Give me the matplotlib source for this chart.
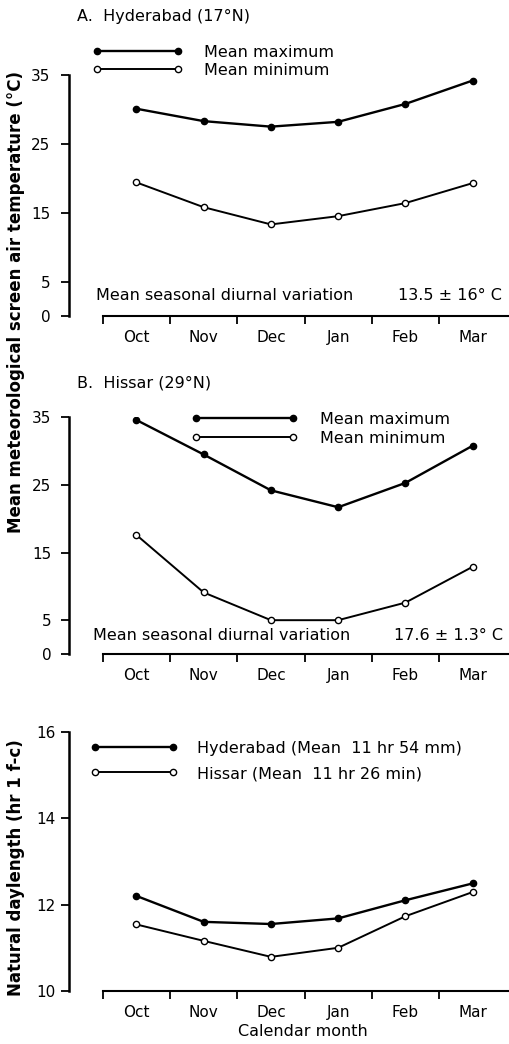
import numpy as np
import matplotlib
matplotlib.use("Agg")
import matplotlib.pyplot as plt

months = ["Oct", "Nov", "Dec", "Jan", "Feb", "Mar"]

# A. Hyderabad, mean screen air temperature (deg C)
hyd_max = [30.1, 28.3, 27.5, 28.2, 30.8, 34.2]
hyd_min = [19.4, 15.8, 13.3, 14.5, 16.4, 19.3]

# B. Hissar
his_max = [34.6, 29.5, 24.2, 21.7, 25.3, 30.8]
his_min = [17.6, 9.1, 5.0, 5.0, 7.6, 12.9]

# natural daylength (hr)
day_hyd = [12.2, 11.6, 11.55, 11.68, 12.1, 12.49]
day_his = [11.54, 11.16, 10.79, 11.0, 11.73, 12.29]

temp_ticks = [0, 5, 15, 25, 35]
day_ticks = [10, 12, 14, 16]

W, H = 509, 1044
plt.rcParams['font.family'] = ['DejaVu Sans']
fig = plt.figure(figsize=(W / 100, H / 100), dpi=100)
FS = 11.5
EM = FS * 100 / 72


def px_axes(left, top, right, bottom):
    return fig.add_axes([left / W, 1 - bottom / H, (right - left) / W, (bottom - top) / H])


def ftext(x, y, s, **kw):
    kw.setdefault("va", "center")
    kw.setdefault("fontsize", FS)
    return fig.text(x / W, 1 - y / H, s, **kw)


def setup(ax, ylim, yticks, ypad):
    x = np.arange(len(months))
    ax.set_xlim(-1.01, 5.54)
    ax.set_ylim(*ylim)
    ax.patch.set_visible(False)
    for s in ["top", "right"]:
        ax.spines[s].set_visible(False)
    ax.spines["left"].set_linewidth(1.8)
    ax.spines["bottom"].set_linewidth(1.5)
    ax.spines["bottom"].set_bounds(-0.5, 5.54)
    ax.set_xticks(x - 0.5)
    ax.set_xticklabels([])
    ax.set_xticks(x, minor=True)
    ax.set_xticklabels(months, minor=True)
    ax.tick_params(axis="x", which="major", direction="out", length=5.5, width=1.3)
    ax.tick_params(axis="x", which="minor", length=0, pad=18.5, labelsize=11)
    for lab in ax.get_xticklabels(minor=True):
        lab.set_va("baseline")
    ax.set_yticks(yticks)
    ax.tick_params(axis="y", direction="out", length=6, width=1.3, pad=ypad, labelsize=11)
    return x


def add_legend(ax, x_start, x_end, x_text, y_first, row_gap):
    length = (x_end - x_start) / EM + 0.6
    x0 = x_start - 0.3 * EM
    pad = (x_text - (x0 + length * EM)) / EM
    spacing = (row_gap - EM) / EM
    ax.legend(loc="upper left", bbox_to_anchor=(x0 / W, 1 - (y_first - 0.5 * EM) / H),
              bbox_transform=fig.transFigure, frameon=False, borderpad=0,
              borderaxespad=0, numpoints=2, handlelength=length,
              handletextpad=pad, labelspacing=spacing, fontsize=FS)


def pair(ax, x, a, b, la, lb):
    ax.plot(x, a, "-o", color="k", lw=1.7, ms=4.5, mfc="k", mec="k", label=la)
    ax.plot(x, b, "-o", color="k", lw=1.4, ms=4.5, mfc="white", mec="k", mew=1.0, label=lb)


# top panel
ax1 = px_axes(68.5, 75, 509, 316)
x = setup(ax1, (0, 35), temp_ticks, 7)
pair(ax1, x, hyd_max, hyd_min, "Mean maximum", "Mean minimum")
add_legend(ax1, 97, 178, 204, 53, 19)
ftext(77, 16, "A.  Hyderabad (17°N)")
ftext(225, 295, "Mean seasonal diurnal variation", ha="center")
ftext(450, 295, "13.5 ± 16° C", ha="center")

# middle panel
ax2 = px_axes(68.5, 417.3, 509, 654)
x = setup(ax2, (0, 35), temp_ticks, 6.5)
pair(ax2, x, his_max, his_min, "Mean maximum", "Mean minimum")
add_legend(ax2, 195.7, 293, 320, 420, 20)
ftext(77, 383, "B.  Hissar (29°N)")
ftext(222, 635, "Mean seasonal diurnal variation", ha="center")
ftext(448, 635, "17.6 ± 1.3° C", ha="center")

ftext(16, 302, "Mean meteorological screen air temperature (°C)",
      rotation=90, ha="center", fontsize=12, fontweight="bold")

# bottom panel
ax3 = px_axes(68.5, 731.7, 509, 991)
x = setup(ax3, (10, 16), day_ticks, 3.5)
pair(ax3, x, day_hyd, day_his, "Hyderabad (Mean  11 hr 54 mm)", "Hissar (Mean  11 hr 26 min)")
add_legend(ax3, 95, 173, 197, 749, 26)
ftext(16, 868, "Natural daylength (hr 1 f-c)", rotation=90, ha="center",
      fontsize=12, fontweight="bold")
ftext(303, 1032, "Calendar month", ha="center")

fig.savefig("out.png", dpi=100)
